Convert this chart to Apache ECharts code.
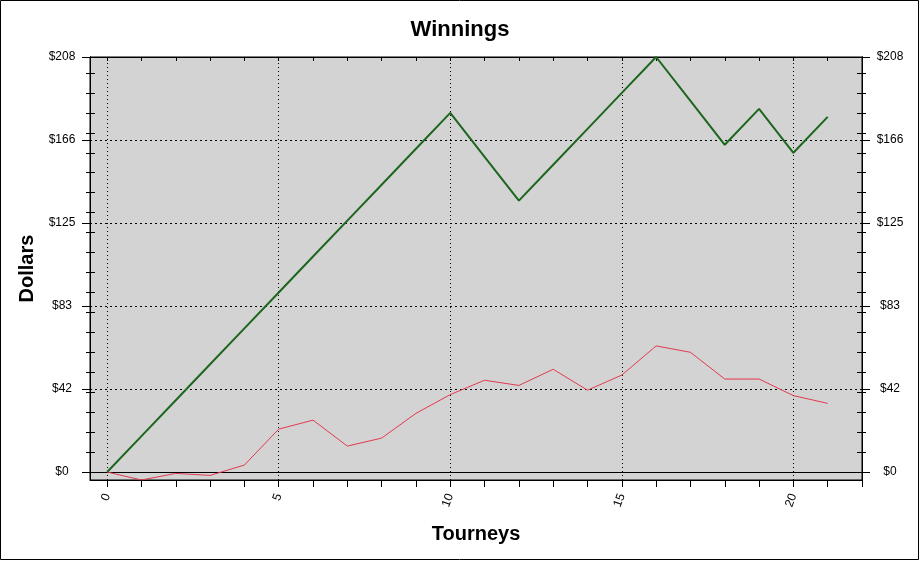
<!DOCTYPE html>
<html>
<head>
<meta charset="utf-8">
<script src="https://cdn.jsdelivr.net/npm/echarts@6/dist/echarts.min.js"></script>
<style>
  html, body { margin: 0; padding: 0; background: #fff; }
  #chart { width: 920px; height: 561px; }
</style>
</head>
<body>
<div id="chart"></div>
<script>
// tourney index and running totals
var tourneys = [0, 1, 2, 3, 4, 5, 6, 7, 8, 9, 10, 11, 12, 13, 14, 15, 16, 17, 18, 19, 20, 21];
var winnings = [0, 18, 36, 54, 72, 90, 108, 126, 144, 162, 180, 158, 136, 154, 172, 190, 208, 186, 164, 182, 160, 178];
var profit = [0, -4, -0.7, -1.7, 3.5, 21.5, 26, 13, 17, 29.4, 38.8, 46, 43.4, 51.5, 41, 48.6, 63.2, 60, 46.6, 46.6, 38.3, 34.4];

var yTicks = [0, 41.6, 83.2, 124.8, 166.4, 208];
var yMinorTicks = [0, 10, 20, 30, 40, 50, 60, 70, 80, 90, 100, 110, 120, 130, 140, 150, 160, 170, 180, 190, 200];
var xTicks = [0, 1, 2, 3, 4, 5, 6, 7, 8, 9, 10, 11, 12, 13, 14, 15, 16, 17, 18, 19, 20, 21, 22];
var xLabels = [0, 5, 10, 15, 20];

var font = 'Liberation Sans, Arial, sans-serif';
var chart = echarts.init(document.getElementById('chart'));

function pairs(vals) {
  return tourneys.map(function (t, i) { return [t, vals[i]]; });
}

function yAxisBase(pos) {
  return {
    type: 'value', position: pos, min: -4, max: 208,
    splitLine: { show: false },
    axisLine: { show: true, onZero: false, lineStyle: { color: '#000', width: 1 } },
    axisTick: { show: false },
    axisLabel: { show: false }
  };
}

var yAxes = [];
['left', 'right'].forEach(function (pos) {
  var major = yAxisBase(pos);
  major.axisTick = { show: true, length: 8, customValues: yTicks, lineStyle: { color: '#000' } };
  major.axisLabel = {
    show: true, customValues: yTicks, margin: 28, align: 'center',
    color: '#000', fontSize: 12, fontFamily: font,
    formatter: function (v) { return '$' + Math.round(v); }
  };
  yAxes.push(major);
  var minorOut = yAxisBase(pos);
  minorOut.axisTick = { show: true, length: 4, customValues: yMinorTicks, lineStyle: { color: '#000' } };
  yAxes.push(minorOut);
  var minorIn = yAxisBase(pos);
  minorIn.axisTick = { show: true, inside: true, length: 5, customValues: yMinorTicks, lineStyle: { color: '#000' } };
  yAxes.push(minorIn);
});
yAxes[0].name = 'Dollars';
yAxes[0].nameLocation = 'middle';
yAxes[0].nameRotate = 90;
yAxes[0].nameGap = 53;
yAxes[0].nameTextStyle = { fontSize: 20, fontWeight: 'bold', color: '#000', fontFamily: font };

var option = {
  backgroundColor: '#fff',
  animation: false,
  title: {
    text: 'Winnings', left: 'center', top: 14,
    textStyle: { fontSize: 22, fontWeight: 'bold', color: '#000', fontFamily: font }
  },
  graphic: [{
    type: 'rect', silent: true,
    shape: { x: 0.5, y: 0.5, width: 918, height: 559 },
    style: { fill: 'none', stroke: '#000', lineWidth: 1 }
  }],
  grid: {
    left: 90, right: 58, top: 57, bottom: 81,
    show: true, backgroundColor: '#d3d3d3', borderColor: '#000', borderWidth: 1
  },
  xAxis: [{
    type: 'value', position: 'bottom', min: -0.5, max: 22,
    name: 'Tourneys', nameLocation: 'middle', nameGap: 44,
    nameTextStyle: { fontSize: 20, fontWeight: 'bold', color: '#000', fontFamily: font },
    splitLine: { show: false },
    axisLine: { show: true, onZero: false, lineStyle: { color: '#000' } },
    axisTick: { show: true, length: 7, customValues: xTicks, lineStyle: { color: '#000' } },
    axisLabel: {
      customValues: xLabels, rotate: 70, margin: 14,
      color: '#000', fontSize: 12, fontFamily: font
    }
  }, {
    type: 'value', position: 'top', min: -0.5, max: 22,
    splitLine: { show: false },
    axisLine: { show: true, onZero: false, lineStyle: { color: '#000' } },
    axisTick: { show: true, inside: true, length: 4, customValues: xTicks, lineStyle: { color: '#000' } },
    axisLabel: { show: false }
  }],
  yAxis: yAxes,
  series: [{
    name: 'Profit', type: 'line', z: 3,
    data: pairs(profit),
    showSymbol: false, symbol: 'none',
    lineStyle: { color: '#e23a50', width: 1 },
    markLine: {
      silent: true, symbol: 'none', z: 1, animation: false,
      label: { show: false },
      data: [
        { xAxis: 0, lineStyle: { color: '#000', width: 1, type: [1, 3] } },
        { xAxis: 5, lineStyle: { color: '#000', width: 1, type: [1, 3] } },
        { xAxis: 10, lineStyle: { color: '#000', width: 1, type: [1, 3] } },
        { xAxis: 15, lineStyle: { color: '#000', width: 1, type: [1, 3] } },
        { xAxis: 20, lineStyle: { color: '#000', width: 1, type: [1, 3] } },
        { yAxis: 41.6, lineStyle: { color: '#000', width: 1, type: [2, 3] } },
        { yAxis: 83.2, lineStyle: { color: '#000', width: 1, type: [2, 3] } },
        { yAxis: 124.8, lineStyle: { color: '#000', width: 1, type: [2, 3] } },
        { yAxis: 166.4, lineStyle: { color: '#000', width: 1, type: [2, 3] } },
        { yAxis: 0, lineStyle: { color: '#000', width: 1, type: 'solid' } }
      ]
    }
  }, {
    name: 'Winnings', type: 'line', z: 4,
    data: pairs(winnings),
    showSymbol: false, symbol: 'none',
    lineStyle: { color: '#1d661d', width: 2 }
  }]
};

chart.setOption(option);
</script>
</body>
</html>
